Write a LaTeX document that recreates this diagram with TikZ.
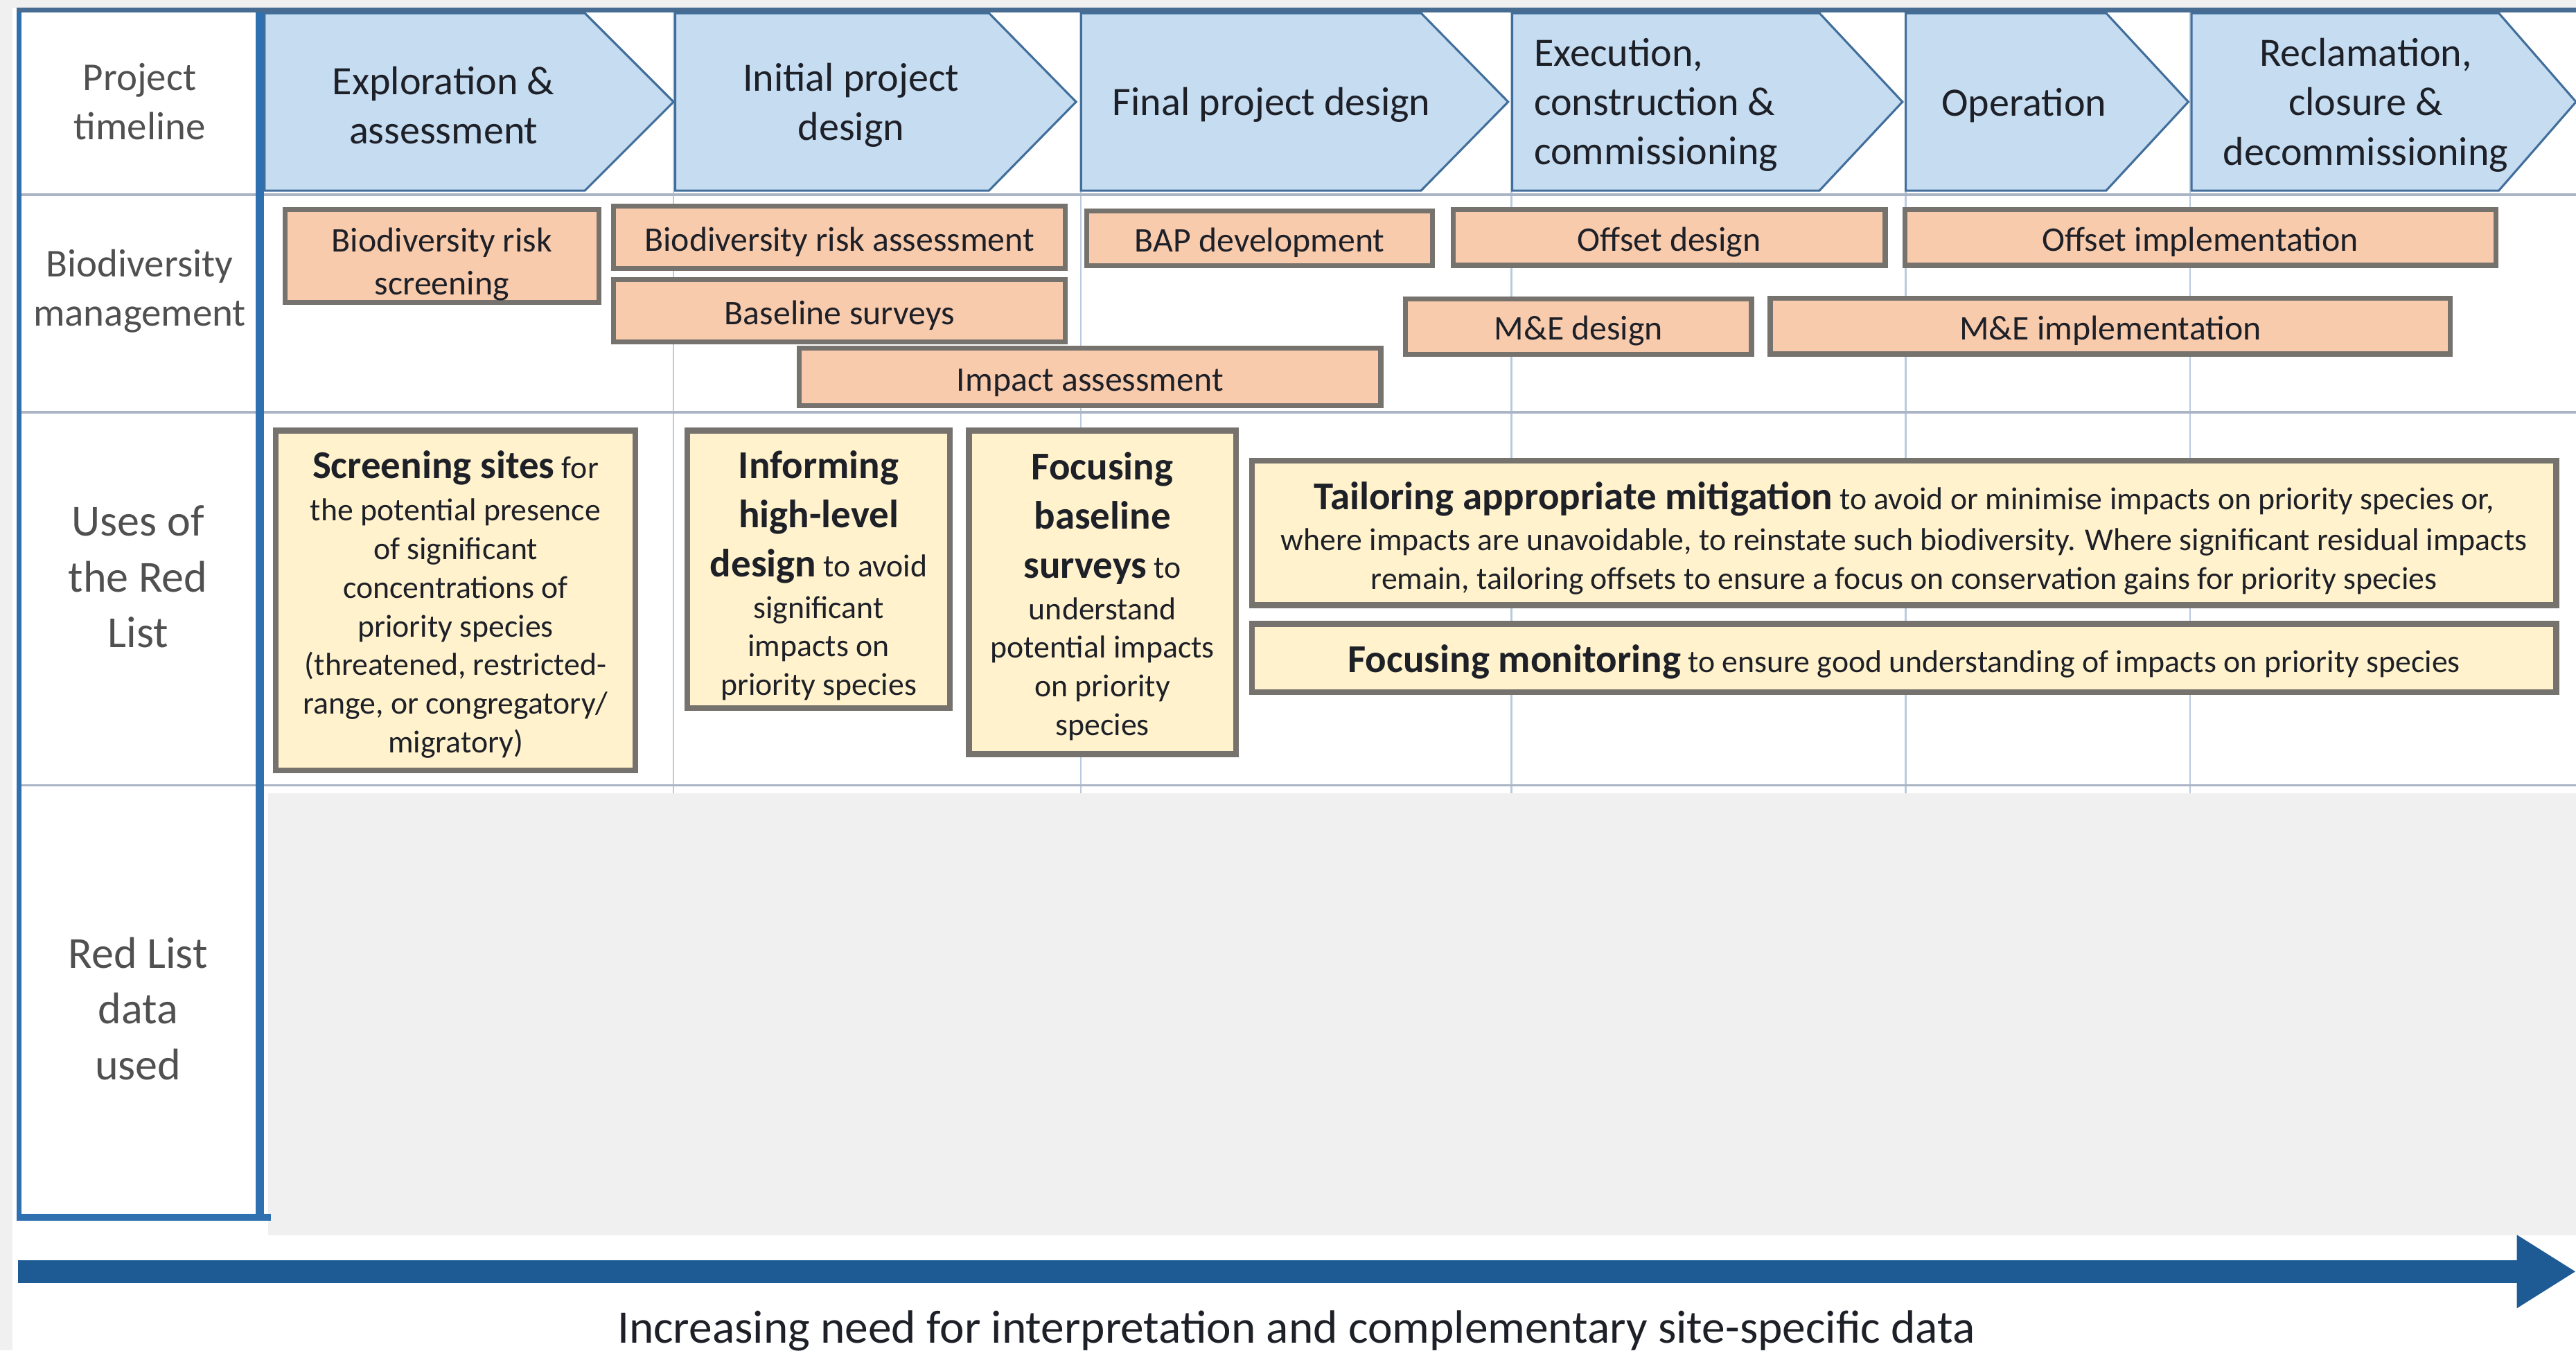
\documentclass[tikz,border=0pt]{standalone}
\usepackage{fontspec}
\setmainfont{Carlito}
\usetikzlibrary{arrows.meta}

\definecolor{phasefill}{RGB}{197,220,241}
\definecolor{phaseline}{RGB}{65,110,155}
\definecolor{mgmtfill}{RGB}{248,203,173}
\definecolor{usefill}{RGB}{255,242,204}
\definecolor{boxline}{RGB}{118,114,110}
\definecolor{gridline}{RGB}{185,202,222}
\definecolor{rowline}{RGB}{170,180,196}
\definecolor{frameblue}{RGB}{46,112,176}
\definecolor{topline}{RGB}{72,108,145}
\definecolor{arrowblue}{RGB}{30,90,148}
\definecolor{labelgrey}{RGB}{80,80,80}
\definecolor{textdark}{RGB}{30,32,40}
\definecolor{bggrey}{RGB}{240,240,240}

\newcommand{\keyterm}[1]{{\fontsize{24}{30}\selectfont\bfseries #1}}
\newcommand{\lead}[1]{\rule{0pt}{#1pt}}

\begin{document}
\begin{tikzpicture}[x=1pt,y=-1pt,
    phase/.style={fill=phasefill,draw=phaseline,line width=1.3pt},
    phasetxt/.style={font=\fontsize{24.5}{30}\selectfont,text=textdark,inner sep=0pt},
    rowlabel/.style={font=\fontsize{24}{30}\selectfont,text=labelgrey,align=center,inner sep=0pt},
    biglabel/.style={font=\fontsize{27}{34}\selectfont,text=labelgrey,align=center,inner sep=0pt},
    mgmt/.style={fill=mgmtfill,draw=boxline,line width=3pt,inner sep=0pt,text=textdark,
      font=\fontsize{21}{26}\selectfont,align=center,execute at begin node={\lead{20}}},
    use/.style={fill=usefill,draw=boxline,line width=3.5pt,inner sep=0pt,text=textdark,
      font=\fontsize{19.3}{23.5}\selectfont,align=center}]
    \useasboundingbox (0,0) rectangle (1568,822);
    \fill[white] (0,0) rectangle (1568,822);
    \fill[bggrey] (0,0) rectangle (1568,5);
    \fill[bggrey] (0,0) rectangle (7.5,822);
    \fill[bggrey] (163,483) rectangle (1568,752);

    % grid of the table
    \foreach \x in {410,658,920,1160,1333}
      \draw[gridline,line width=1pt] (\x,7) -- (\x,483);
    \foreach \y in {118.5,251,478}
      \draw[rowline,line width=1.5pt] (10,\y) -- (1568,\y);

    % project phases
    \foreach \l/\b/\t/\cx/\al/\txt [count=\i] in {
        161/356/410/270/center/{Exploration \&\\assessment},
        411/602/655/518/center/{Initial project\\design},
        658/865/918/774/center/{Final project design},
        920.5/1107.5/1158/1008/left/{Execution,\\construction \&\\commissioning},
        1160/1282/1332/1232/center/{Operation},
        1334/1521/1568/1440/center/{Reclamation,\\closure \&\\decommissioning}} {
      \draw[phase] (\l,8) -- (\b,8) -- (\t,62) -- (\b,116) -- (\l,116) -- cycle;
      \node[phasetxt,align=\al] (phase\i) at (\cx,64) {\txt};
    }

    % biodiversity management
    \node[mgmt,minimum width=191pt,minimum height=56.6pt] (riskscreen) at (269,155.8) {\lead{24.7}Biodiversity risk\\screening};
    \node[mgmt,minimum width=275pt,minimum height=37.7pt] (riskassess) at (511,144.4) {Biodiversity risk assessment};
    \node[mgmt,minimum width=275pt,minimum height=38pt] (baseline) at (511,189.3) {Baseline surveys};
    \node[mgmt,minimum width=354pt,minimum height=35pt] (impact) at (663.5,229.6) {Impact assessment};
    \node[mgmt,minimum width=210.5pt,minimum height=33.3pt] (bap) at (766.8,144.9) {BAP development};
    \node[mgmt,minimum width=263pt,minimum height=34pt] (offsetdes) at (1016,144.5) {Offset design};
    \node[mgmt,minimum width=359.6pt,minimum height=34pt] (offsetimp) at (1339.3,144.5) {Offset implementation};
    \node[mgmt,minimum width=210.6pt,minimum height=33.5pt] (medes) at (960.8,198.8) {M\&E design};
    \node[mgmt,minimum width=414pt,minimum height=34pt] (meimp) at (1284.5,198.5) {M\&E implementation};

    % uses of the red list
    \node[use,minimum width=219pt,minimum height=206.7pt] (screening) at (277.3,365.5)
      {\lead{21.5}\keyterm{Screening sites} for\\[2.5pt] the potential presence\\ of significant\\ concentrations of\\
       priority species\\ (threatened, restricted-\\ range, or congregatory/\\ migratory)};
    \node[use,minimum width=160pt,minimum height=169pt] (informing) at (498.3,346.6)
      {\lead{24.3}\keyterm{Informing}\\[6.5pt] \keyterm{high-level}\\[6.5pt] \keyterm{design} to avoid\\[1.5pt] significant\\
       impacts on\\ priority species};
    \node[use,minimum width=162.5pt,minimum height=197pt] (focusbase) at (671,360.6)
      {\lead{21.5}\keyterm{Focusing}\\[6.5pt] \keyterm{baseline}\\[6.5pt] \keyterm{surveys} to\\[1.5pt] understand\\
       potential impacts\\ on priority\\ species};
    \node[use,minimum width=794pt,minimum height=88pt] (tailoring) at (1159,324.4)
      {\lead{23.3}\keyterm{Tailoring appropriate mitigation} to avoid or minimise impacts on priority species or,\\[1.5pt]
       where impacts are unavoidable, to reinstate such biodiversity. Where significant residual impacts\\
       remain, tailoring offsets to ensure a focus on conservation gains for priority species};
    \node[use,minimum width=794pt,minimum height=41.5pt] (monitoring) at (1159,400.5)
      {\lead{22}\keyterm{Focusing monitoring} to ensure good understanding of impacts on priority species};

    % frame of the label column
    \draw[frameblue,line width=3pt] (11.5,5) -- (11.5,742.5);
    \draw[frameblue,line width=5pt] (158,5) -- (158,742.5);
    \draw[frameblue,line width=4pt] (10,741) -- (165,741);
    \draw[topline,line width=3pt] (10,6) -- (1568,6);

    % row labels
    \node[rowlabel] (lbltime) at (85,62) {Project\\timeline};
    \node[rowlabel] (lblmgmt) at (85,177) {Biodiversity\\management};
    \node[biglabel] (lbluses) at (84,351) {Uses of\\the Red\\List};
    \node[biglabel] (lbldata) at (84,614) {Red List\\data\\used};

    % increasing need
    \coordinate (needstart) at (11,774);
    \coordinate (needend) at (1568,774);
    \draw[arrowblue,line width=14pt,-{Triangle[length=36pt,width=42pt]}] (needstart) -- (needend);
    \node[font=\fontsize{28.4}{34}\selectfont,text=textdark,inner sep=0pt] (needtxt) at (789,810)
      {Increasing need for interpretation and complementary site-specific data};
\end{tikzpicture}
\end{document}
